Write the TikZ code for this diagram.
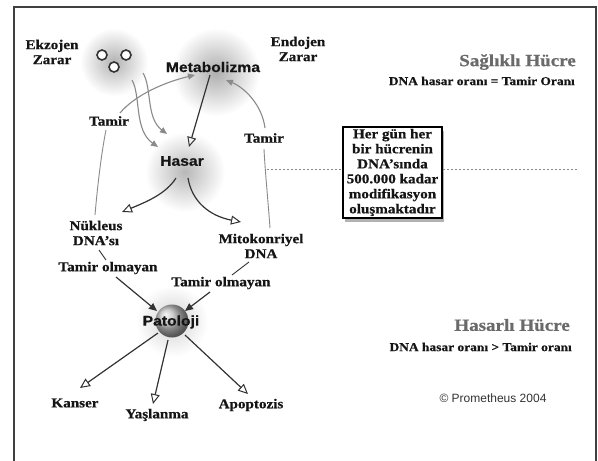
\documentclass[tikz,border=0pt]{standalone}
\usepackage{fontspec}
\setmainfont{Liberation Serif}[FakeStretch=1.12, BoldFeatures={FakeBold=0.6}]
\newfontfamily\sansb{Liberation Sans}[FakeStretch=1.12, BoldFeatures={FakeBold=0.4}]
\newfontfamily\sansn{Liberation Sans}
\usetikzlibrary{arrows.meta,shadows}
\definecolor{txt}{HTML}{151515}
\definecolor{dark}{HTML}{333333}
\definecolor{lgray}{HTML}{8A8A8A}
\definecolor{hgray}{HTML}{6A6A6A}
\tikzset{
  lab/.style={font=\bfseries\fontsize{13.5}{15}\selectfont, text=txt, align=center, inner sep=1pt},
  slab/.style={font=\sansb\bfseries\fontsize{14}{16}\selectfont, text=txt, align=center, inner sep=1pt},
  head/.style={font=\bfseries\fontsize{17}{19}\selectfont, text=hgray, anchor=east, inner sep=0pt},
  ratio/.style={font=\bfseries\fontsize{12}{14}\selectfont, text=txt, anchor=east, inner sep=0pt},
  darr/.style={draw=dark, line width=1.2pt, -{Triangle[open, length=10pt, width=9pt, line width=1pt]}},
  farr/.style={draw=dark, line width=1.2pt, -{Triangle[length=8pt, width=7pt]}},
  garr/.style={draw=lgray, line width=1.1pt, -{Triangle[length=7pt, width=6pt]}},
  gline/.style={draw=lgray, line width=0.9pt},
  dline/.style={draw=dark, line width=0.9pt},
  dots/.style={draw=lgray, line width=1pt, dash pattern=on 1.5pt off 2.5pt},
  ring/.style={draw=black!80, line width=1.6pt, fill=white},
  infobox/.style={lab, draw=black, line width=1.6pt, fill=white, inner xsep=4pt, inner ysep=2pt,
    drop shadow={shadow xshift=2pt, shadow yshift=-4pt, fill=black!60}}
}
\begin{document}
\begin{tikzpicture}[x=1pt,y=-1pt]
\useasboundingbox (0,0) rectangle (598,461);
\fill[white] (0,0) rectangle (598,461);
% glows
\shade[inner color=black!30, outer color=white] (114,62) circle (34);
\shade[inner color=black!32, outer color=white] (216,72) circle (44);
\shade[inner color=black!28, outer color=white] (185,172) circle (40);
\shade[inner color=black!18, outer color=white] (172,321) circle (36);
\shade[ball color=black!25] (172,321) circle (16.5);
% frame
\draw[draw=black!75, line width=1.5pt] (14,461) -- (14,7) -- (596,7) -- (596,461);
% small circles
\node[circle, ring, minimum size=10pt, inner sep=0pt] (c1) at (102,55) {};
\node[circle, ring, minimum size=10pt, inner sep=0pt] (c2) at (126,55) {};
\node[circle, ring, minimum size=10pt, inner sep=0pt] (c3) at (114,67) {};
% nodes
\node[lab] (ekz) at (52,52) {Ekzojen\\Zarar};
\node[lab] (endo) at (298,49) {Endojen\\Zarar};
\node[slab] (meta) at (213,67) {Metabolizma};
\node[head] (sag) at (576,62) {Sağlıklı Hücre};
\node[ratio] (r1) at (575,81) {DNA hasar oranı = Tamir Oranı};
\node[lab] (tamirL) at (109,121) {Tamir};
\node[slab] (hasar) at (182,161) {Hasar};
\node[lab] (tamirR) at (264,138) {Tamir};
\node[infobox] (box) at (392.5,172.5) {Her gün her\\bir hücrenin\\DNA’sında\\500.000 kadar\\modifikasyon\\oluşmaktadır};
\node[lab] (nuk) at (96,233) {Nükleus\\DNA’sı};
\node[lab] (mito) at (261,246) {Mitokonriyel\\DNA};
\node[lab] (tolL) at (108,268) {Tamir olmayan};
\node[lab] (tolR) at (221,283) {Tamir olmayan};
\node[slab] (pat) at (171,322) {Patoloji};
\node[lab] (kanser) at (75,403) {Kanser};
\node[lab] (yas) at (157,415) {Yaşlanma};
\node[lab] (apo) at (251,405) {Apoptozis};
\node[head] (hasarli) at (570,325) {Hasarlı Hücre};
\node[ratio] (r2) at (572,347) {DNA hasar oranı > Tamir oranı};
\node[font=\sansn\fontsize{12}{14}\selectfont, text=black!80, inner sep=0pt] (prom) at (493,398) {© Prometheus 2004};
% dotted line
\coordinate (dL) at (267,169);
\coordinate (dR) at (578,169);
\draw[dots] (dL) -- (dL -| box.west);
\draw[dots] (dL -| box.east) -- (dR);
% exogenous arrows
\coordinate (e1) at (132,80);
\coordinate (e2) at (143,73);
\draw[garr] (e1) .. controls (141,96) and (134,130) .. ([shift={(-24,-14)}]hasar.center);
\draw[garr] (e2) .. controls (152,88) and (146,118) .. ([shift={(-15,-27)}]hasar.center);
% main arrows
\draw[darr] ([shift={(-3,8)}]meta.center) -- ([shift={(7,-14)}]hasar.center);
\draw[darr] ([shift={(-6,17)}]hasar.center) .. controls (166,194) and (146,202) .. ([shift={(26,-21)}]nuk.center);
\draw[darr] ([shift={(6,17)}]hasar.center) .. controls (192,202) and (210,216) .. ([shift={(-20,-24)}]mito.center);
% repair
\draw[garr] ([shift={(11,-8)}]tamirL.center) .. controls (135,95) and (165,82) .. ([shift={(-18,8)}]meta.center);
\draw[gline] ([shift={(-1,-18)}]nuk.center) .. controls (98,180) and (102,150) .. ([shift={(-3,9)}]tamirL.center);
\draw[gline] ([shift={(9,-18)}]mito.center) .. controls (268,200) and (265,170) .. ([shift={(0,11)}]tamirR.center);
\draw[garr] ([shift={(1,-10)}]tamirR.center) .. controls (262,105) and (245,88) .. ([shift={(13,13)}]meta.center);
% unrepaired
\draw[dline] ([shift={(3,17)}]nuk.center) -- ([shift={(-2,-8)}]tolL.center);
\draw[farr] ([shift={(8,9)}]tolL.center) -- ([shift={(-14,-11)}]pat.center);
\draw[dline] ([shift={(-12,16)}]mito.center) -- ([shift={(11,-8)}]tolR.center);
\draw[farr] ([shift={(-11,9)}]tolR.center) -- ([shift={(14,-11)}]pat.center);
% outcomes
\draw[darr] ([shift={(-13,11)}]pat.center) -- ([shift={(5,-15)}]kanser.center);
\draw[darr] ([shift={(-3,18)}]pat.center) -- ([shift={(-4,-11)}]yas.center);
\draw[darr] ([shift={(14,13)}]pat.center) -- ([shift={(-3,-11)}]apo.center);
\end{tikzpicture}
\end{document}
